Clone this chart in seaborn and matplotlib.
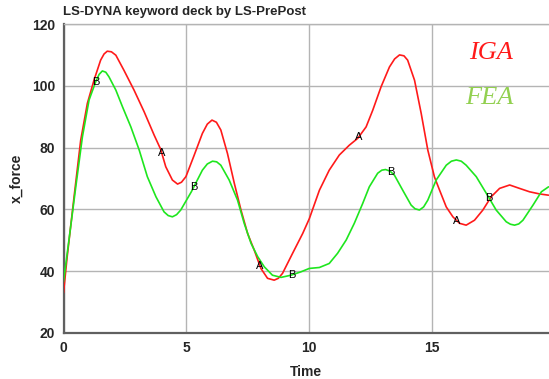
import numpy as np
import pandas as pd
import matplotlib
matplotlib.use("Agg")
import matplotlib.pyplot as plt
from matplotlib.ticker import MultipleLocator
import seaborn as sns

# IGA response curve (time, x_force)
iga_time = [0, 0.15, 0.43, 0.7, 0.97, 1.24, 1.51, 1.65, 1.78, 1.95, 2.13, 2.46, 2.87, 3.28,
            3.69, 3.95, 4.16, 4.43, 4.64, 4.8, 4.98, 5.3, 5.65, 5.85, 6.04, 6.22, 6.4,
            6.67, 6.95, 7.22, 7.49, 7.76, 8.03, 8.3, 8.57, 8.74, 8.91, 9.32, 9.73, 10.0,
            10.41, 10.81, 11.22, 11.63, 11.97, 12.31, 12.58, 12.92, 13.26, 13.47, 13.67,
            13.85, 14.0, 14.28, 14.55, 14.82, 15.09, 15.3, 15.57, 15.84, 16.11, 16.38,
            16.72, 17.06, 17.4, 17.74, 18.15, 18.55, 18.96, 19.37, 19.73]
iga_force = [33, 44.7, 64.1, 82.4, 94.3, 101.8, 108.3, 110.3, 111.2, 111.0, 109.9, 105,
             98.6, 91.6, 84, 79.5, 73.8, 69.5, 68.2, 68.8, 70.6, 77.2, 84.6, 87.6, 88.9,
             88.2, 85.7, 78.1, 68.4, 59.8, 52.2, 46.8, 40.9, 37.7, 37.1, 37.7, 39.3,
             45.8, 52.2, 57, 66.2, 72.7, 77.6, 80.8, 83, 86.7, 92.1, 99.7, 106.1, 108.7,
             110, 109.7, 108.3, 101.8, 91.1, 79.2, 70.5, 66.2, 60.8, 57.6, 55.5, 54.9,
             56.5, 59.8, 64.1, 66.8, 67.9, 66.8, 65.7, 65, 64.6]

# FEA response curve (time, x_force)
fea_time = [0, 0.22, 0.5, 0.77, 1.04, 1.31, 1.45, 1.58, 1.72, 1.85, 2.13, 2.4, 2.74, 3.08,
            3.41, 3.76, 4.09, 4.26, 4.43, 4.6, 4.77, 5.2, 5.65, 5.85, 6.06, 6.23, 6.4,
            6.74, 7.08, 7.35, 7.63, 7.9, 8.17, 8.5, 8.85, 9.25, 9.66, 10.0, 10.41, 10.81,
            11.15, 11.5, 11.83, 12.17, 12.44, 12.78, 12.95, 13.1, 13.28, 13.46, 13.8,
            14.14, 14.3, 14.48, 14.65, 14.82, 15.16, 15.57, 15.78, 15.98, 16.18, 16.38,
            16.79, 17.2, 17.6, 18.01, 18.18, 18.35, 18.52, 18.69, 19.1, 19.44, 19.73]
fea_force = [36.5, 50, 67.3, 83.5, 95.4, 101.3, 103.7, 104.8, 104.4, 102.9, 98.6, 93.2,
             86.7, 79.2, 70.6, 64.1, 59.2, 58.0, 57.6, 58.3, 59.8, 65.7, 72.7, 74.7,
             75.6, 75.4, 74.3, 69.5, 63, 55.5, 49, 44.7, 41.4, 38.7, 38, 38.7, 39.8,
             40.9, 41.2, 42.5, 45.8, 50.1, 55.5, 61.9, 67.3, 71.7, 72.7, 72.9, 72.4,
             71.1, 66.2, 61.4, 60.2, 59.8, 60.8, 63, 69.5, 74.3, 75.6, 76, 75.6, 74.3,
             70.6, 65.2, 59.8, 56, 55.2, 54.9, 55.3, 56.5, 61.4, 65.7, 67.3]

# curve identifier letters placed along each curve
label_a_time = [4.0, 8.0, 12.0, 16.0]
label_b_time = [1.3, 5.3, 9.3, 13.3, 17.3]

sns.set_theme(style="white")
plt.rcParams["font.family"] = ["Liberation Sans", "DejaVu Sans"]

iga_df = pd.DataFrame({"Time": iga_time, "x_force": iga_force})
fea_df = pd.DataFrame({"Time": fea_time, "x_force": fea_force})

fig = plt.figure(figsize=(5.49, 3.79), dpi=100)
ax = fig.add_axes([63.5 / 549, 46 / 379, (549 - 63.5) / 549, 309 / 379])

sns.lineplot(data=iga_df, x="Time", y="x_force", ax=ax, color="#ff1a1a",
             linewidth=1.2, sort=False, zorder=3)
sns.lineplot(data=fea_df, x="Time", y="x_force", ax=ax, color="#1ee61e",
             linewidth=1.2, sort=False, zorder=3)

for t in label_a_time:
    ax.text(t, np.interp(t, iga_time, iga_force), "A", ha="center", va="center",
            fontsize=8, color="black", zorder=4)
for t in label_b_time:
    ax.text(t, np.interp(t, fea_time, fea_force), "B", ha="center", va="center",
            fontsize=8, color="black", zorder=4)

ax.set_xlim(0, 19.75)
ax.set_ylim(20, 120)
ax.xaxis.set_major_locator(MultipleLocator(5))
ax.xaxis.set_minor_locator(MultipleLocator(2.5))
ax.yaxis.set_major_locator(MultipleLocator(20))
ax.yaxis.set_minor_locator(MultipleLocator(10))

ax.grid(True, which="major", color="#b4b4b4", linewidth=1.0, zorder=1)
ax.tick_params(which="major", length=0, pad=6, labelsize=10)
ax.tick_params(which="minor", direction="in", length=4, width=1, color="#606060")
for lbl in ax.get_xticklabels() + ax.get_yticklabels():
    lbl.set_fontweight("bold")

ax.spines["right"].set_visible(False)
ax.spines["top"].set_color("#b4b4b4")
ax.spines["top"].set_linewidth(1.0)
for side in ("left", "bottom"):
    ax.spines[side].set_color("#606060")
    ax.spines[side].set_linewidth(1.6)

ax.set_xlabel("Time", fontsize=10, fontweight="bold", labelpad=7)
ax.set_ylabel("x_force", fontsize=10, fontweight="bold", labelpad=6)

fig.text(63 / 549, 1 - 12 / 379, "LS-DYNA keyword deck by LS-PrePost", ha="left",
         va="center", fontsize=9.5, fontweight="bold")

fig.text(491 / 549, 1 - 53 / 379, "IGA", ha="center", va="center", fontsize=19,
         style="italic", color="#ff1a1a", family=["Liberation Serif", "DejaVu Serif"])
fig.text(489 / 549, 1 - 98 / 379, "FEA", ha="center", va="center", fontsize=19,
         style="italic", color="#92d050", family=["Liberation Serif", "DejaVu Serif"])

fig.savefig("out.png", dpi=100)
